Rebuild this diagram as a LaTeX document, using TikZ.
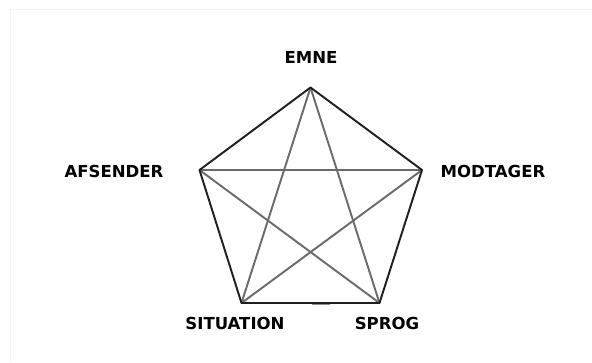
\documentclass[tikz,border=0pt]{standalone}
\usepackage{fontspec}
\setmainfont{DejaVu Sans}
\usetikzlibrary{positioning,calc}

\begin{document}
\begin{tikzpicture}[
    x=0.75pt, y=-0.75pt,
    every node/.style={font=\bfseries\fontsize{12.4}{14}\selectfont},
    side/.style={draw=black!88, line width=1.45pt, line join=round},
    diag/.style={draw=black!58, line width=1.45pt},
    frame/.style={draw=black!5, line width=0.6pt}
  ]
    \useasboundingbox (0,0) rectangle (592,362);
    \draw[frame] (10,362) -- (10,9) -- (592,9);

    % corners of the pentagon
    \coordinate (emne) at (310.5,87.5);
    \coordinate (afs) at (199.5,170);
    \coordinate (mod) at (422,170);
    \coordinate (sit) at (241.5,303);
    \coordinate (spr) at (379.5,303);

    \node (emne_lbl) at (311,57) {EMNE};
    \node (afs_lbl) at (114,171) {AFSENDER};
    \node (mod_lbl) at (493,171) {MODTAGER};
    \node (sit_lbl) at (235,323) {SITUATION};
    \node (spr_lbl) at (387,323) {SPROG};

    % star
    \draw[diag] (emne) -- (sit);
    \draw[diag] (emne) -- (spr);
    \draw[diag] (afs) -- (mod);
    \draw[diag] (afs) -- (spr);
    \draw[diag] (sit) -- (mod);

    % outline
    \draw[side] (emne) -- (mod) -- (spr) -- (sit) -- (afs) -- cycle;
    \draw[draw=black!45, line width=1.2pt] ($(sit)!0.51!(spr)+(0,1.3)$) -- ($(sit)!0.64!(spr)+(0,1.3)$);
  \end{tikzpicture}
\end{document}
